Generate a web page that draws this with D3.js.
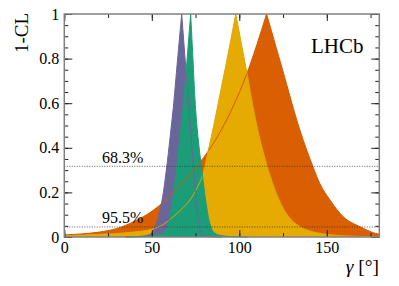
<!DOCTYPE html>
<html>
<head>
<meta charset="utf-8">
<script src="https://cdn.jsdelivr.net/npm/d3@7"></script>
<style>
body { margin: 0; background: #fff; }
svg text { font-family: 'Liberation Serif', 'Times New Roman', 'DejaVu Serif', serif !important; fill: #000; }
</style>
</head>
<body>
<svg id="chart"></svg>
<script>
// 1-CL profiles, [gamma (deg), 1-CL]
var purple = [[35,0],[45,0.004],[49,0.012],[51,0.03],[53.7,0.09],[56.6,0.2],[58.3,0.30],[60.5,0.45],[62.7,0.614],[64.2,0.75],[67.1,1],
              [69.5,0.75],[70.9,0.614],[72.3,0.47],[73.9,0.30],[75.6,0.14],[76.7,0.065],[77.7,0.025],[79,0.008],[82,0.002],[90,0]];
var green = [[35,0],[48,0.003],[54.5,0.01],[57.5,0.025],[59.5,0.06],[61,0.12],[62.5,0.2],[64.3,0.317],[66.5,0.48],[68.3,0.614],[70.2,0.8],[72.2,1],
             [73.5,0.8],[74.7,0.614],[76,0.48],[77.5,0.37],[79,0.27],[80.5,0.18],[82.3,0.09],[84,0.04],[86,0.017],[90,0.006],[95,0.002],[105,0]];
var yellow = [[0,0.005],[20,0.012],[39,0.022],[50,0.035],[55,0.049],[62.3,0.091],[67,0.125],[71.8,0.166],[76,0.222],[78.6,0.268],[80.3,0.317],[82.6,0.4],[85.4,0.5],[88.3,0.614],[91.8,0.75],[98,1],
              [104,0.75],[110,0.50],[115.5,0.33],[120,0.22],[125,0.13],[130,0.075],[135,0.045],[140,0.028],[150,0.012],[160,0.005],[180,0.001]];
var orange = [[0,0.009],[10,0.014],[20,0.022],[30,0.038],[40,0.07],[50,0.115],[62.5,0.2],[74,0.30],[89,0.47],[104,0.726],[115.6,1],
              [124.7,0.75],[134.6,0.48],[138.5,0.39],[142,0.317],[146,0.24],[151.8,0.166],[159.4,0.091],[169,0.046],[177.5,0.017],[180,0.012]];

var xTicks = [0, 50, 100, 150];
var yTicks = [0, 0.2, 0.4, 0.6, 0.8, 1];
var clLevels = [0.317, 0.045];
var clLabels = ["68.3%", "95.5%"];

var width = 399, height = 286;
var serif = "'Liberation Serif', 'Times New Roman', serif";
var x = d3.scaleLinear().domain([0, 180]).range([64.3, 379.3]);
var y = d3.scaleLinear().domain([0, 1]).range([237, 14]);

var svg = d3.select("#chart").attr("width", width).attr("height", height);

var series = [
    {data: orange, fill: "#d95f02", line: "#d45a00"},
    {data: yellow, fill: "#e6ab02", line: "#e0a800"},
    {data: purple, fill: "#6b6699", line: "#6a6598"},
    {data: green,  fill: "#1b9e77", line: "#1b9e77"}
];

// split at the peak so the cusp stays sharp
function halves(pts) {
    var i = d3.maxIndex(pts, function(d) { return d[1]; });
    return [pts.slice(0, i + 1), pts.slice(i)];
}

var area = d3.area()
    .x(function(d) { return x(d[0]); })
    .y0(y(0))
    .y1(function(d) { return y(d[1]); })
    .curve(d3.curveMonotoneX);

var line = d3.line()
    .x(function(d) { return x(d[0]); })
    .y(function(d) { return y(d[1]); })
    .curve(d3.curveMonotoneX);

var g = svg.append("g");

series.forEach(function(s) {
    var h = halves(s.data);
    g.append("path")
        .attr("d", area(h[0]) + area(h[1]))
        .attr("fill", s.fill)
        .attr("stroke", "none");
});

series.forEach(function(s) {
    var h = halves(s.data);
    g.append("path")
        .attr("d", line(h[0]) + line(h[1]))
        .attr("fill", "none")
        .attr("stroke", s.line)
        .attr("stroke-width", 1);
});

// CL reference lines
clLevels.forEach(function(v, i) {
    svg.append("line")
        .attr("x1", x(0)).attr("x2", x(180))
        .attr("y1", y(v)).attr("y2", y(v))
        .attr("stroke", "#333")
        .attr("stroke-width", 0.8)
        .attr("stroke-dasharray", "1,1.5");
    svg.append("text")
        .attr("x", 102)
        .attr("y", y(v) - 3.5)
        .style("font-family", serif)
        .style("font-size", "16px")
        .text(clLabels[i]);
});

// axes
function styleAxis(sel) {
    sel.attr("font-family", null);
    sel.select(".domain").remove();
    sel.selectAll(".tick line").attr("stroke", "#222").attr("stroke-width", 1);
    sel.selectAll(".tick text").style("font-family", serif).style("font-size", "16px");
}

var minorX = d3.range(0, 181, 25);
var minorY = d3.range(0, 1.001, 0.05);

svg.append("g").attr("transform", "translate(0," + y(0) + ")")
    .call(d3.axisBottom(x).tickValues(minorX).tickSizeInner(-4).tickSizeOuter(0).tickFormat(""))
    .call(styleAxis);
svg.append("g").attr("transform", "translate(0," + y(0) + ")")
    .call(d3.axisBottom(x).tickValues(xTicks).tickSizeInner(-7).tickSizeOuter(0).tickPadding(4.5).tickFormat(d3.format("d")))
    .call(styleAxis);
svg.append("g").attr("transform", "translate(0," + y(1) + ")")
    .call(d3.axisTop(x).tickValues(minorX).tickSizeInner(-4).tickSizeOuter(0).tickFormat(""))
    .call(styleAxis);
svg.append("g").attr("transform", "translate(0," + y(1) + ")")
    .call(d3.axisTop(x).tickValues(xTicks).tickSizeInner(-7).tickSizeOuter(0).tickFormat(""))
    .call(styleAxis);

svg.append("g").attr("transform", "translate(" + x(0) + ",0)")
    .call(d3.axisLeft(y).tickValues(minorY).tickSizeInner(-4).tickSizeOuter(0).tickFormat(""))
    .call(styleAxis);
svg.append("g").attr("transform", "translate(" + x(0) + ",0)")
    .call(d3.axisLeft(y).tickValues(yTicks).tickSizeInner(-8).tickSizeOuter(0).tickPadding(5).tickFormat(function(d) { return d3.format("")(d); }))
    .call(styleAxis);
svg.append("g").attr("transform", "translate(" + x(180) + ",0)")
    .call(d3.axisRight(y).tickValues(minorY).tickSizeInner(-4).tickSizeOuter(0).tickFormat(""))
    .call(styleAxis);
svg.append("g").attr("transform", "translate(" + x(180) + ",0)")
    .call(d3.axisRight(y).tickValues(yTicks).tickSizeInner(-8).tickSizeOuter(0).tickFormat(""))
    .call(styleAxis);

// frame
svg.append("rect")
    .attr("x", x(0)).attr("y", y(1))
    .attr("width", x(180) - x(0)).attr("height", y(0) - y(1))
    .attr("fill", "none")
    .attr("stroke", "#808080")
    .attr("stroke-width", 1.5);

// labels
svg.append("text")
    .attr("transform", "translate(28,13) rotate(-90)")
    .attr("text-anchor", "end")
    .style("font-family", serif)
    .style("font-size", "19px")
    .text("1-CL");

var xl = svg.append("text")
    .attr("x", 379).attr("y", 273)
    .attr("text-anchor", "end")
    .style("font-family", serif)
    .style("font-size", "19.5px");
xl.append("tspan").style("font-style", "italic").text("\u03b3");
xl.append("tspan").text(" [\u00b0]");

svg.append("text")
    .attr("x", 311).attr("y", 53)
    .style("font-family", serif)
    .style("font-size", "21px")
    .text("LHCb");
</script>
</body>
</html>
